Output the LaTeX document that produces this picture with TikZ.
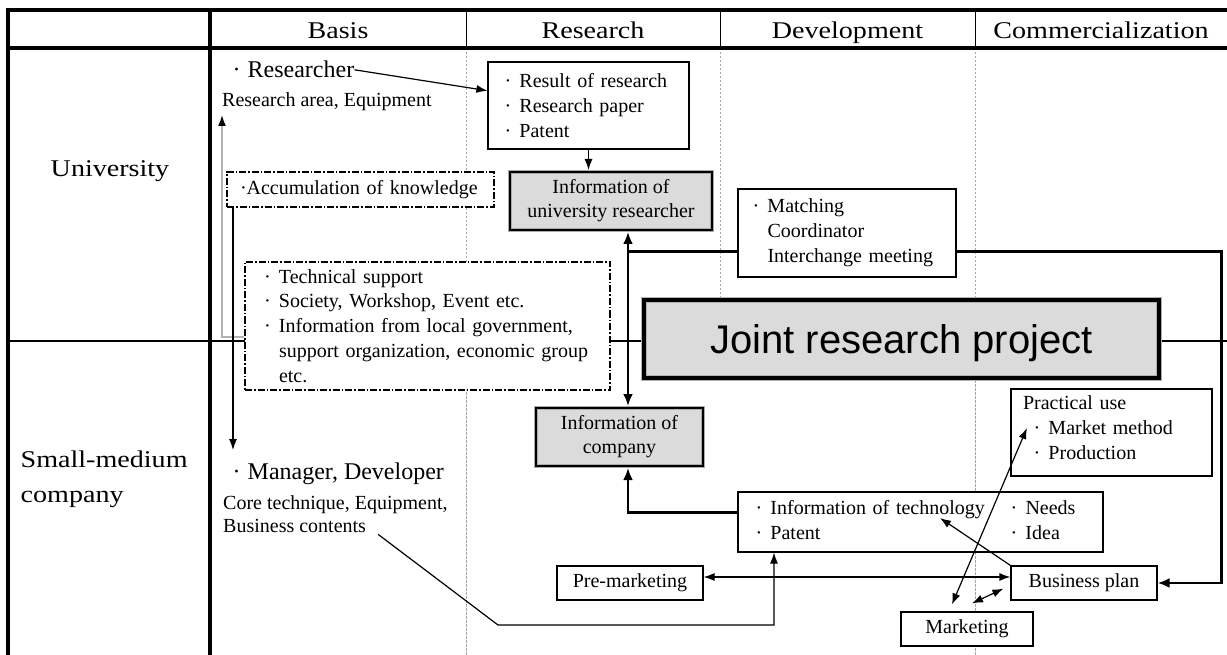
\documentclass[tikz,border=0pt]{standalone}
\usepackage{fontspec}
\setmainfont{Liberation Serif}
\newfontfamily\hdrfont[FakeStretch=1.17]{Liberation Serif}
\newfontfamily\jointfont{Liberation Sans}
\usetikzlibrary{arrows.meta,calc}
\newcommand\bul{\makebox[17pt][l]{\hspace{2pt}·}}
\begin{document}
\begin{tikzpicture}[x=1pt,y=-1pt,
  tbl/.style={line width=3.5pt},
  hsep/.style={line width=1pt},
  rowline/.style={line width=1.1pt},
  colsep/.style={draw=gray!70,line width=0.8pt,dash pattern=on 2.5pt off 1.5pt},
  hdr/.style={font=\hdrfont\fontsize{24}{33}\selectfont, inner sep=0pt},
  bigtxt/.style={font=\fontsize{24}{28}\selectfont, inner sep=0pt},
  smtxt/.style={font=\fontsize{20}{24}\selectfont, inner sep=0pt},
  bx/.style={draw, line width=1.2pt, fill=white, font=\fontsize{20}{24.8}\selectfont, align=left},
  dashbx/.style={bx, dash pattern=on 7pt off 2pt on 1.5pt off 2pt},
  infobx/.style={draw=gray!65, double=black, line width=0.9pt, double distance=2.4pt, fill=black!14,
     font=\fontsize{20}{24}\selectfont, align=center, inner sep=0pt, outer sep=2pt},
  arr/.style={-{Latex[length=11pt,width=8pt]}, line width=1.2pt},
  darr/.style={{Latex[length=11pt,width=8pt]}-{Latex[length=11pt,width=8pt]}, line width=1.2pt},
  thk/.style={line width=2.8pt},
  thkarr/.style={thk, -{Latex[length=12pt,width=10pt]}},
  thkdarr/.style={thk, {Latex[length=12pt,width=10pt]}-{Latex[length=12pt,width=10pt]}},
  grayarr/.style={draw=gray!60, line width=1.6pt, -{Latex[length=11pt,width=8pt,color=black]}}
]
\useasboundingbox (0,0) rectangle (1227,655);
% table
\draw[colsep] (466,48) -- (466,655);
\draw[colsep] (720,48) -- (720,297);
\draw[colsep] (975,48) -- (975,655);
\draw[rowline] (8,341) -- (1227,341);
\draw[tbl] (8,655) -- (8,10) -- (1227,10);
\draw[tbl] (6.25,48) -- (1227,48);
\draw[tbl] (210,10) -- (210,655);
\draw[hsep] (466,10) -- (466,48);
\draw[hsep] (720,10) -- (720,48);
\draw[hsep] (975,10) -- (975,48);
% headers
\node[hdr, anchor=base] (hBasis) at (338,38.5) {Basis};
\node[hdr, anchor=base] (hRes) at (593,38.5) {Research};
\node[hdr, anchor=base] (hDev) at (847.5,38.5) {Development};
\node[hdr, anchor=base] (hCom) at (1101,38.5) {Commercialization};
\node[hdr, anchor=base] (uni) at (110,177) {University};
\node[hdr, anchor=base west] (smc1) at (20.5,467.7) {Small-medium};
\node[hdr, anchor=base west] (smc2) at (20.5,502.7) {company};
% free texts
\node[bigtxt, anchor=base west] (res1) at (230.5,78) {\bul Researcher};
\node[smtxt, anchor=base west] (res2) at (222,106.7) {Research area, Equipment};
\node[bigtxt, anchor=base west] (mgr1) at (230.5,479) {\bul Manager, Developer};
\node[smtxt, anchor=base west] (mgr2) at (223,509) {Core technique, Equipment,};
\node[smtxt, anchor=base west] (mgr3) at (223,532) {Business contents};
% boxes
\node[bx, text width=172pt, inner xsep=14.5pt, minimum height=87pt] (result) at (588.5,105.5)
  {\mbox{\bul Result of research}\\\mbox{\bul Research paper}\\\mbox{\bul Patent}};
\node[infobx, minimum width=202pt, minimum height=58pt] (infoU) at (611,201)
  {Information of\\university researcher};
\node[dashbx, text width=241pt, inner xsep=13pt, minimum height=35pt] (accum) at (360.5,189.5)
  {\mbox{·Accumulation of knowledge}};
\node[bx, text width=193pt, inner xsep=12.5pt, minimum height=88pt] (match) at (847,233)
  {\mbox{\bul Matching}\\\mbox{\hspace*{17pt}Coordinator}\\\mbox{\hspace*{17pt}Interchange meeting}};
\node[dashbx, text width=331pt, inner xsep=17pt, minimum height=128pt] (tech) at (427.5,326)
  {\mbox{\bul Technical support}\\\mbox{\bul Society, Workshop, Event etc.}\\\mbox{\bul Information from local government,}\\\mbox{\hspace*{17pt}support organization, economic group}\\\mbox{\hspace*{17pt}etc.}};
\node[draw=gray!60, double=black, line width=1.3pt, double distance=3.6pt, fill=black!14,
  minimum width=515pt, minimum height=78pt, outer sep=3.2pt, text depth=0pt,
  font=\jointfont\fontsize{40}{48}\selectfont] (joint) at (901.5,339) {Joint research project};
\node[infobx, minimum width=167pt, minimum height=58pt] (infoC) at (619.5,437)
  {Information of\\company};
\node[bx, text width=334pt, inner xsep=15.5pt, minimum height=60pt] (itech) at (920.5,522)
  {\begin{tabular}{@{}p{243pt}l@{}}\bul Information of technology & \bul Needs\\\bul Patent & \bul Idea\end{tabular}};
\node[bx, text width=177pt, inner xsep=12pt, minimum height=87pt] (pract) at (1111.5,432.5)
  {Practical use\\\mbox{\hspace*{8.5pt}\bul Market method}\\\mbox{\hspace*{8.5pt}\bul Production}\\[-15pt]\mbox{}};
\node[bx, minimum width=146pt, minimum height=34pt, inner sep=2pt] (pre) at (630,583) {Pre-marketing};
\node[bx, minimum width=146pt, minimum height=34pt, inner sep=2pt] (biz) at (1084,583) {Business plan};
\node[bx, minimum width=132pt, minimum height=34pt, inner sep=2pt] (mkt) at (967,629) {Marketing};
% connectors
\coordinate (jx) at (628,251.7);
\coordinate (gtip) at (222,115);
\coordinate (mtip) at (233,450);
\coordinate (bc1) at (498,625);
\coordinate (bc2) at (774,625);
\draw[arr] (res1.east) -- ([yshift=14.8pt]result.west);
\draw[arr] (result.south) -- (result.south |- infoU.north);
\draw[grayarr] ([yshift=-10.7pt]tech.west) -| (gtip);
\draw[arr] (accum.south west -| mtip) -- (mtip);
\draw[thk] ([yshift=-18.7pt]match.west) -- (jx);
\draw[thkdarr] (infoU.south -| jx) -- (infoC.north -| jx);
\draw[thkarr] ([yshift=-18.7pt]match.east) -| ($(biz.east)+(64,0)$) -- (biz.east);
\draw[thkarr] ([yshift=9.3pt]itech.west) -| (infoC.south -| jx);
\draw[arr] ($(mgr3.south east)+(12,2)$) -- (bc1) -- (bc2) -- (bc2 |- itech.south);
\draw[darr] ([yshift=6pt]pre.east) -- ([yshift=6pt]biz.west);
\draw[arr] (biz.north west) -- ([xshift=19.5pt,yshift=4pt]itech.center);
\draw[darr] ([xshift=-15pt,yshift=7pt]mkt.north) -- ([xshift=16.5pt,yshift=4.5pt]pract.west);
\draw[darr] ([xshift=5pt,yshift=8pt]mkt.north) -- ([xshift=-7pt,yshift=12pt]biz.south west);
\end{tikzpicture}
\end{document}
